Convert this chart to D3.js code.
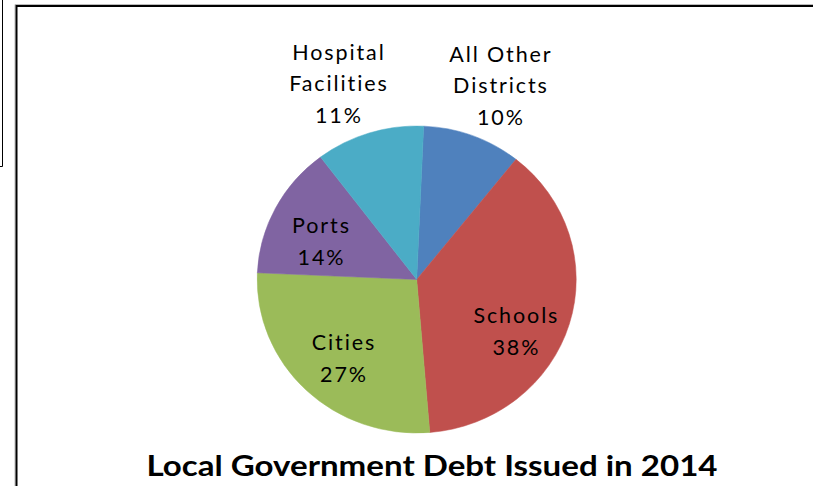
<!DOCTYPE html>
<html>
<head>
<meta charset="utf-8">
<script src="https://cdn.jsdelivr.net/npm/d3@7"></script>
<style>
  html, body { margin: 0; padding: 0; background: #fff; }
  svg { display: block; }
</style>
</head>
<body>
<svg id="chart" width="813" height="486"></svg>
<script>
// Local government debt issued in 2014, share by issuer type (percent)
const categories = ["All Other Districts", "Schools", "Cities", "Ports", "Hospital Facilities"];
const shares = [10, 38, 27, 14, 11];
const colors = ["#4F81BD", "#C0504D", "#9BBB59", "#8064A2", "#4BACC6"];
// label lines per slice (name split as drawn)
const labelLines = [["All Other", "Districts"], ["Schools"], ["Cities"], ["Ports"], ["Hospital", "Facilities"]];
const title = "Local  Government Debt Issued in 2014";

const svg = d3.select("#chart");
const W = 813, H = 486;

// outer frame (top and left edges of the chart area)
svg.append("line").attr("x1", 15).attr("y1", 4.5).attr("x2", W).attr("y2", 4.5)
  .attr("stroke", "#bbb").attr("stroke-width", 1);
svg.append("line").attr("x1", 15).attr("y1", 4.5).attr("x2", 15).attr("y2", H)
  .attr("stroke", "#bbb").attr("stroke-width", 1);
svg.append("path").attr("d", `M16.5,${H} V6 H${W}`)
  .attr("fill", "none").attr("stroke", "#000").attr("stroke-width", 2);
// neighbouring panel edge at far left
svg.append("path").attr("d", "M0,166.5 H2.5 V0")
  .attr("fill", "none").attr("stroke", "#000").attr("stroke-width", 1);

// pie
const cx = 416.7, cy = 279.5, r = 153.5, sx = 159.5 / 153.5;
const rot = 2.5 * Math.PI / 180;
const pie = d3.pie().sort(null).value(d => d)
  .startAngle(rot).endAngle(2 * Math.PI + rot);
const arcs = pie(shares);
const arc = d3.arc().innerRadius(0).outerRadius(r);

const g = svg.append("g").attr("transform", `translate(${cx},${cy}) scale(${sx},1)`);
g.selectAll("path.slice").data(arcs).join("path")
  .attr("class", "slice")
  .attr("d", arc)
  .attr("fill", (d, i) => colors[i])
  .attr("stroke", (d, i) => colors[i])
  .attr("stroke-width", 0.5);

// label placement: distance (px) and bearing (deg, clockwise from 12 o'clock) from pie centre
const labelPolar = [[204, 24.1], [115.3, 121.1], [113.6, 220.4], [100.9, 287.6], [204, 337.3]];
const fmt = d3.format(".0f");
const lineH = 31.5;
const font = "Lato, 'Open Sans', sans-serif";
const ls = 1.9;

const labels = svg.append("g");
arcs.forEach((d, i) => {
  const [dist, deg] = labelPolar[i];
  const a = deg * Math.PI / 180;
  const lx = cx + Math.sin(a) * dist + ls / 2;
  const ly = cy - Math.cos(a) * dist;
  const lines = labelLines[i].concat([fmt(shares[i]) + "%"]);
  const n = lines.length;
  lines.forEach((t, k) => {
    labels.append("text")
      .attr("x", lx)
      .attr("y", ly + (k - (n - 1) / 2) * lineH)
      .attr("text-anchor", "middle")
      .attr("font-family", font)
      .attr("font-size", 21.5)
      .attr("letter-spacing", ls)
      .attr("fill", "#000")
      .text(t);
  });
});

// title
svg.append("text")
  .attr("x", 432).attr("y", 476)
  .attr("text-anchor", "middle")
  .attr("font-family", font)
  .attr("font-weight", "bold")
  .attr("font-size", 29)
  .attr("textLength", 571)
  .attr("lengthAdjust", "spacingAndGlyphs")
  .attr("fill", "#000")
  .text(title);
</script>
</body>
</html>
